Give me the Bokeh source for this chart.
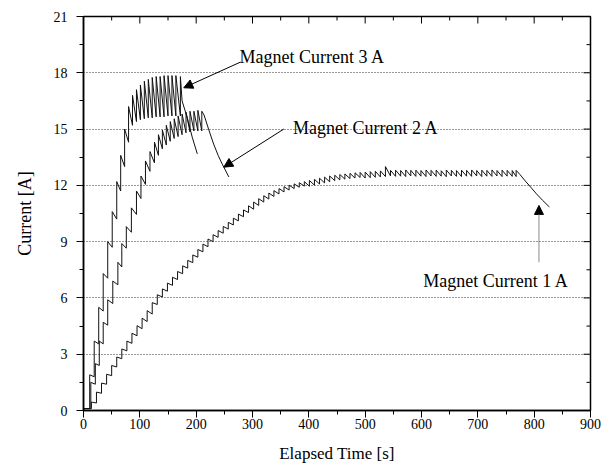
from bokeh.plotting import figure
from bokeh.models import (Range1d, FixedTicker, Arrow, NormalHead, Label)
from bokeh.embed import file_html
from bokeh.resources import INLINE

# ---------------- data ----------------
x_ticks = [0, 100, 200, 300, 400, 500, 600, 700, 800, 900]
x_minor = [50, 150, 250, 350, 450, 550, 650, 750, 850]
y_ticks = [0, 3, 6, 9, 12, 15, 18, 21]
y_minor = [1.5, 4.5, 7.5, 10.5, 13.5, 16.5, 19.5]
grid_levels = [3, 6, 9, 12, 15, 18]

# baseline before the first step (time, current) for curves 1, 2, 3
start_t = [0, 0, 0]
start_i = [0.1, 0.1, 0.1]

# Magnet current 1 A: step times, value just before each step, value just after
c1_t = [14, 23, 32, 41, 50, 59, 68, 77, 86, 95, 104, 113, 122,
        131, 140, 149, 158, 167, 176, 185, 194, 203, 212,
        221, 230, 239, 248, 257, 266, 275, 284, 293,
        302, 311, 320, 329, 338, 347, 356, 365, 374, 383, 392,
        401, 410, 419, 428, 437, 446, 455, 464, 473, 482, 491,
        500, 509, 518, 527, 536, 545, 554, 563, 572, 581, 590,
        599, 608, 617, 626, 635, 644, 653, 662, 671, 680, 689,
        698, 707, 716, 725, 734, 743, 752, 761, 768]
c1_lo = [0.10, 0.40, 0.92, 1.40, 1.86, 2.32, 2.76, 3.18, 3.58, 3.98, 4.36, 4.74, 5.14,
         5.65, 6.05, 6.36, 6.67, 6.98, 7.29, 7.59, 7.88, 8.17, 8.46,
         8.73, 9.00, 9.23, 9.45, 9.67, 9.89, 10.11, 10.33, 10.55,
         10.73, 10.93, 11.11, 11.27, 11.41, 11.54, 11.65, 11.75, 11.83, 11.90, 11.96,
         11.95, 12.01, 12.07, 12.13, 12.19, 12.25, 12.29, 12.33, 12.36, 12.39, 12.42,
         12.39, 12.41, 12.43, 12.45, 12.47, 12.50, 12.48, 12.49, 12.47, 12.50, 12.48,
         12.49, 12.47, 12.50, 12.48, 12.49, 12.46, 12.50, 12.48, 12.47, 12.49, 12.48,
         12.50, 12.47, 12.49, 12.48, 12.50, 12.47, 12.49, 12.48, 12.47]
c1_hi = [0.45, 0.98, 1.46, 1.93, 2.40, 2.85, 3.28, 3.70, 4.12, 4.52, 4.92, 5.32, 5.75,
         6.17, 6.48, 6.79, 7.10, 7.41, 7.71, 8.00, 8.29, 8.58, 8.87,
         9.14, 9.37, 9.59, 9.81, 10.03, 10.25, 10.47, 10.69, 10.91,
         11.11, 11.29, 11.45, 11.59, 11.72, 11.83, 11.93, 12.01, 12.08, 12.14, 12.20,
         12.26, 12.32, 12.38, 12.44, 12.50, 12.54, 12.58, 12.61, 12.64, 12.67, 12.69,
         12.71, 12.73, 12.75, 12.77, 13.00, 12.80, 12.81, 12.79, 12.82, 12.80, 12.81,
         12.79, 12.82, 12.80, 12.81, 12.78, 12.82, 12.80, 12.79, 12.81, 12.80, 12.82,
         12.79, 12.81, 12.80, 12.82, 12.79, 12.81, 12.80, 12.79, 12.80]
c1_tail_t = [775, 784, 794, 804, 815, 827]
c1_tail_i = [12.57, 12.24, 11.90, 11.55, 11.20, 10.85]

# Magnet current 2 A
c2_t = [13, 21, 28, 35, 43, 52, 61, 68, 76, 85, 94, 102, 110, 118, 126, 133,
        140, 147, 154, 161, 168, 175, 182, 189, 196, 203, 210]
c2_lo = [0.1, 1.4, 2.4, 3.55, 4.55, 5.7, 6.7, 7.65, 8.65, 9.5, 10.45, 11.3, 12.05,
         12.75, 13.2, 13.6, 13.95, 14.15, 14.35, 14.5, 14.6, 14.7, 14.8, 14.85,
         14.9, 14.9, 14.9]
c2_hi = [1.5, 2.5, 3.7, 4.7, 5.9, 6.9, 7.9, 8.9, 9.8, 10.8, 11.7, 12.5, 13.3, 13.8,
         14.3, 14.7, 14.95, 15.2, 15.4, 15.55, 15.7, 15.8, 15.9, 15.95, 15.95,
         16.0, 15.95]
c2_tail_t = [214, 222, 231, 239, 246, 258]
c2_tail_i = [15.75, 15.0, 14.2, 13.6, 13.15, 12.45]

# Magnet current 3 A
c3_t = [11, 19, 27, 35, 43, 51, 59, 66, 73, 80, 87, 94, 101, 108, 115, 122,
        129, 136, 143, 150, 157, 164, 172]
c3_lo = [0.1, 1.8, 3.55, 5.3, 7.05, 8.7, 10.2, 11.7, 13.0, 14.3, 15.2, 15.4,
         15.5, 15.55, 15.6, 15.6, 15.65, 15.65, 15.65, 15.7, 15.7, 15.7, 15.7]
c3_hi = [1.9, 3.7, 5.5, 7.3, 9.0, 10.6, 12.2, 13.6, 15.0, 16.2, 16.8, 17.1,
         17.35, 17.55, 17.65, 17.75, 17.8, 17.8, 17.85, 17.85, 17.85, 17.85, 17.8]
c3_tail_t = [175, 184, 193, 202]
c3_tail_i = [16.5, 15.63, 14.57, 13.68]

# annotations: text, text anchor (left, baseline), arrow start -> arrow tip
ann_text = ["Magnet Current 3 A", "Magnet Current 2 A", "Magnet Current 1 A"]
ann_x = [277, 372, 603]
ann_y = [18.83, 15.05, 6.88]
arr_x0 = [278.7, 355.6, 808.5]
arr_y0 = [18.57, 15.0, 7.9]
arr_x1 = [178, 249, 808.5]
arr_y1 = [17.2, 12.97, 10.93]
arr_color = ["black", "black", "#8a8a8a"]


def build(t0, i0, t, lo, hi, tt, ti):
    xs, ys = [t0], [i0]
    for a, b, c in zip(t, lo, hi):
        xs += [a, a]
        ys += [b, c]
    return xs + list(tt), ys + list(ti)


FONT = "Liberation Serif"

p = figure(frame_width=507, frame_height=394,
           x_range=Range1d(x_ticks[0], x_ticks[-1]),
           y_range=Range1d(y_ticks[0], y_ticks[-1]),
           output_backend="svg", toolbar_location=None,
           min_border_left=83, min_border_right=14,
           min_border_top=16, min_border_bottom=56)
p.outline_line_color = "black"
p.outline_line_width = 1.5
p.background_fill_color = "white"
p.border_fill_color = "white"

curves = [
    build(start_t[0], start_i[0], c1_t, c1_lo, c1_hi, c1_tail_t, c1_tail_i),
    build(start_t[1], start_i[1], c2_t, c2_lo, c2_hi, c2_tail_t, c2_tail_i),
    build(start_t[2], start_i[2], c3_t, c3_lo, c3_hi, c3_tail_t, c3_tail_i),
]
for xs, ys in curves:
    p.line(xs, ys, line_color="#111111", line_width=1)

# axes (left / bottom, outward ticks)
xt = FixedTicker(ticks=x_ticks, minor_ticks=x_minor)
yt = FixedTicker(ticks=y_ticks, minor_ticks=y_minor)
for ax, tk in ((p.xaxis[0], xt), (p.yaxis[0], yt)):
    ax.ticker = tk
    ax.axis_line_width = 1.5
    ax.axis_line_color = "black"
    ax.major_tick_out = 7
    ax.major_tick_in = 0
    ax.minor_tick_out = 4
    ax.minor_tick_in = 0
    ax.major_tick_line_color = "black"
    ax.minor_tick_line_color = "black"
    ax.major_label_text_font = FONT
    ax.major_label_text_font_size = "14px"
    ax.major_label_text_color = "black"
    ax.axis_label_text_font = FONT
    ax.axis_label_text_font_style = "normal"
    ax.axis_label_text_color = "black"

p.xaxis.axis_label = "Elapsed Time [s]"
p.yaxis.axis_label = "Current [A]"
p.xaxis.axis_label_text_font_size = "17px"
p.yaxis.axis_label_text_font_size = "18px"
p.xaxis.major_label_standoff = 1
p.xaxis.axis_label_standoff = 12
p.yaxis.major_label_standoff = 9
p.yaxis.axis_label_standoff = 16

# mirrored inward ticks on the top and right frame edges (clipped half-dashes)
p.scatter(x_ticks, [y_ticks[-1]] * len(x_ticks), marker="dash", angle=1.5708,
          size=14, line_color="black", line_width=1)
p.scatter(x_minor, [y_ticks[-1]] * len(x_minor), marker="dash", angle=1.5708,
          size=8, line_color="black", line_width=1)
p.scatter([x_ticks[-1]] * len(y_ticks), y_ticks, marker="dash",
          size=14, line_color="black", line_width=1)
p.scatter([x_ticks[-1]] * len(y_minor), y_minor, marker="dash",
          size=8, line_color="black", line_width=1)

p.xgrid.visible = False
p.ygrid.ticker = FixedTicker(ticks=grid_levels)
p.ygrid.grid_line_color = "#333333"
p.ygrid.grid_line_dash = "1 2"
p.ygrid.grid_line_width = 1

for i in range(3):
    p.add_layout(Arrow(end=NormalHead(size=9, fill_color="black",
                                      line_color="black", line_width=1),
                       x_start=arr_x0[i], y_start=arr_y0[i],
                       x_end=arr_x1[i], y_end=arr_y1[i],
                       line_color=arr_color[i], line_width=1))
    p.add_layout(Label(x=ann_x[i], y=ann_y[i], text=ann_text[i],
                       text_font=FONT, text_font_size="18px",
                       text_color="black", text_align="left",
                       text_baseline="alphabetic"))

open("out.html", "w").write(file_html(p, INLINE))
